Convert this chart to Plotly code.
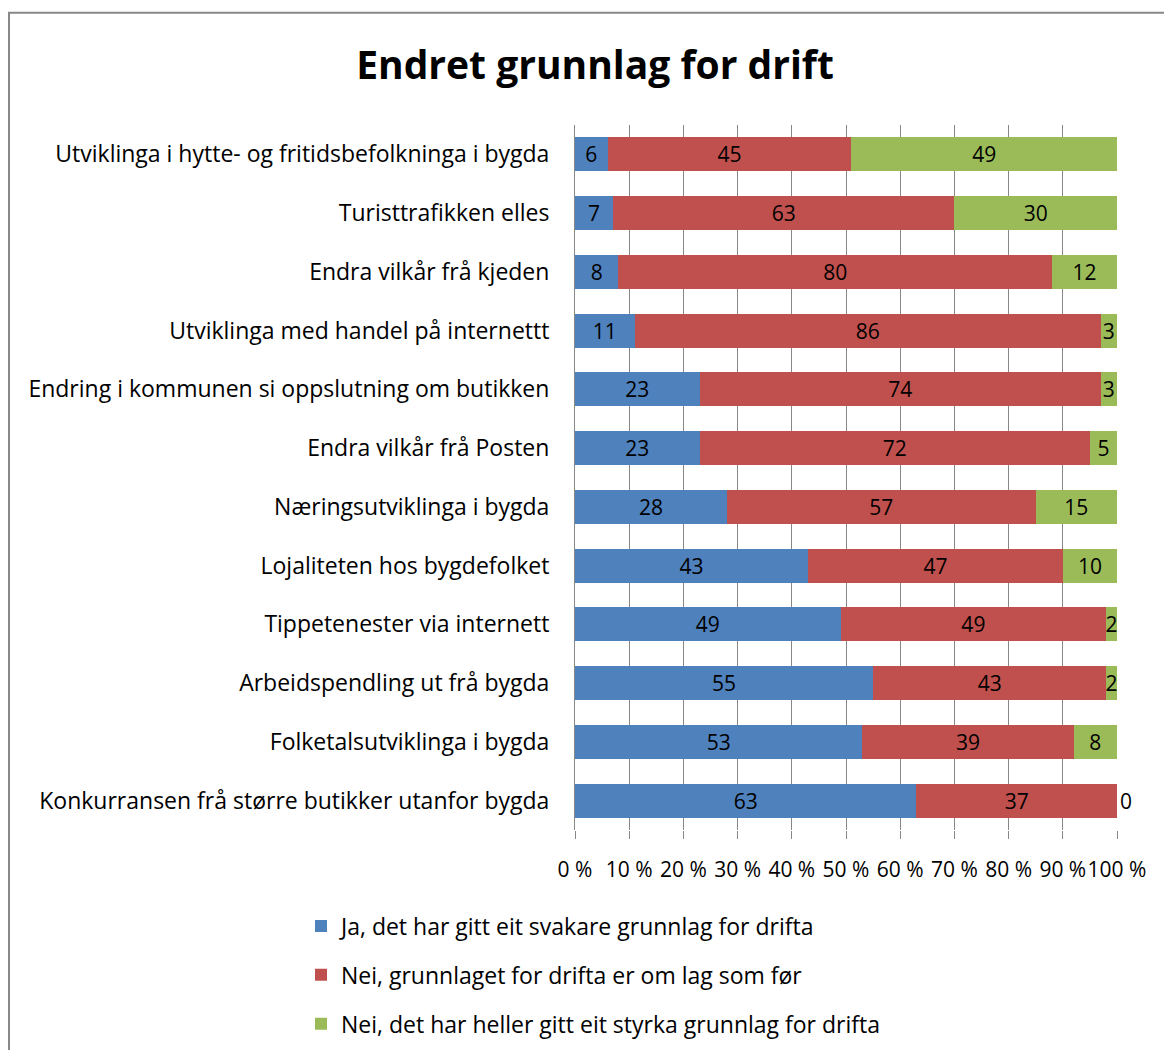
import plotly.graph_objects as go

categories = [
    "Utviklinga i hytte- og fritidsbefolkninga i bygda",
    "Turisttrafikken elles",
    "Endra vilkår frå kjeden",
    "Utviklinga med handel på internettt",
    "Endring i kommunen si oppslutning om butikken",
    "Endra vilkår frå Posten",
    "Næringsutviklinga i bygda",
    "Lojaliteten hos bygdefolket",
    "Tippetenester via internett",
    "Arbeidspendling ut frå bygda",
    "Folketalsutviklinga i bygda",
    "Konkurransen frå større butikker utanfor bygda",
]
svakare = [6, 7, 8, 11, 23, 23, 28, 43, 49, 55, 53, 63]
som_for = [45, 63, 80, 86, 74, 72, 57, 47, 49, 43, 39, 37]
styrka = [49, 30, 12, 3, 3, 5, 15, 10, 2, 2, 8, 0]

series = [
    ("Ja, det har gitt eit svakare grunnlag for drifta", svakare, "#4F81BD"),
    ("Nei, grunnlaget for drifta er om lag som før", som_for, "#C0504D"),
    ("Nei, det har heller gitt eit styrka grunnlag for drifta", styrka, "#9BBB59"),
]
tick_vals = [0, 10, 20, 30, 40, 50, 60, 70, 80, 90, 100]
tick_text = [f"{v} %" for v in tick_vals]

FONT = "Open Sans"

# plot area in figure pixels (page is offset by 8px)
L, R, T, B = 567, 1109, 117, 827
PW, PH = R - L, B - T

fig = go.Figure()
for i, (name, vals, color) in enumerate(series):
    fig.add_trace(go.Bar(
        y=categories, x=vals, name=name, orientation="h",
        marker=dict(color=color, line=dict(width=0)),
        text=[str(v) for v in vals],
        textposition=["inside" if v > 0 else "outside" for v in vals],
        insidetextanchor="middle",
        constraintext="none",
        textfont=dict(size=21, color="black", family=FONT),
        legendgroup=f"g{i}",
        cliponaxis=False,
    ))

fig.update_layout(
    width=1172, height=1050,
    barmode="stack", bargap=0.42,
    paper_bgcolor="white", plot_bgcolor="white",
    font=dict(family=FONT, size=23, color="black"),
    margin=dict(l=L, r=1172 - R, t=T, b=1050 - B),
    title=dict(text="<b>Endret grunnlag for drift</b>", font=dict(size=39, family=FONT),
               x=587 / 1172, xref="container", xanchor="center",
               y=1 - 57 / 1050, yref="container", yanchor="middle"),
    showlegend=True,
    legend=dict(orientation="v", x=(293 - L) / PW, xanchor="left",
                y=(B - 902) / PH, yanchor="top",
                traceorder="grouped", tracegroupgap=16, itemwidth=30,
                font=dict(size=23, family=FONT)),
    shapes=[dict(type="rect", xref="paper", yref="paper",
                 x0=(1 - L) / PW, x1=(1200 - L) / PW,
                 y0=(B - 1080) / PH, y1=(B - 4) / PH,
                 line=dict(color="#888888", width=2), layer="below")],
)
fig.update_xaxes(range=[0, 100], tickmode="array", tickvals=tick_vals, ticktext=tick_text,
                 tickangle=0, showgrid=True, gridcolor="#888888", gridwidth=1,
                 ticks="outside", ticklen=8, tickcolor="#888888",
                 ticklabelstandoff=13, zeroline=False, showline=False,
                 tickfont=dict(size=21, family=FONT))
fig.update_yaxes(autorange="reversed", showline=True, linecolor="#888888",
                 ticks="", ticklabelstandoff=20, tickfont=dict(size=23, family=FONT))

fig.write_html("out.html")
